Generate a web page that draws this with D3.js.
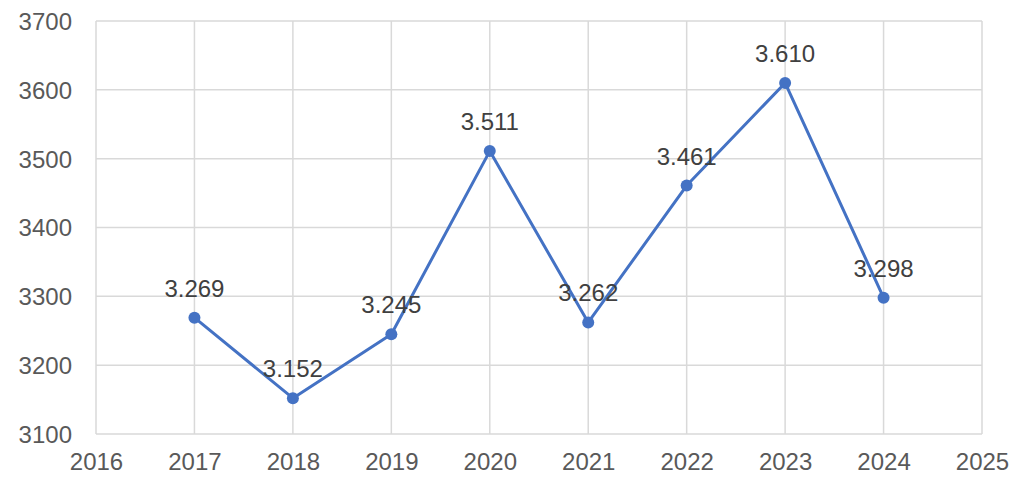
<!DOCTYPE html>
<html>
<head>
<meta charset="utf-8">
<script src="https://cdn.jsdelivr.net/npm/d3@7"></script>
<style>
  body { margin: 0; background: #fff; }
  text { font-family: "Liberation Sans", Arial, sans-serif; }
</style>
</head>
<body>
<div id="chart"></div>
<script>
var years = [2017, 2018, 2019, 2020, 2021, 2022, 2023, 2024];
var values = [3269, 3152, 3245, 3511, 3262, 3461, 3610, 3298];
var xTicks = [2016, 2017, 2018, 2019, 2020, 2021, 2022, 2023, 2024, 2025];
var yTicks = [3100, 3200, 3300, 3400, 3500, 3600, 3700];

var margin = {top: 21, right: 42, bottom: 54, left: 96},
    width = 1024 - margin.left - margin.right,
    height = 488 - margin.top - margin.bottom;

var x = d3.scaleLinear().domain([2016, 2025]).range([0, width]);
var y = d3.scaleLinear().domain([3100, 3700]).range([height, 0]);

var svg = d3.select("#chart").append("svg")
    .attr("width", 1024)
    .attr("height", 488)
    .append("g")
    .attr("transform", "translate(" + margin.left + "," + margin.top + ")");

// gridlines
svg.append("g")
    .selectAll("line")
    .data(yTicks)
    .enter().append("line")
    .attr("x1", 0).attr("x2", width)
    .attr("y1", function(d) { return y(d); })
    .attr("y2", function(d) { return y(d); })
    .attr("stroke", "#d9d9d9")
    .attr("stroke-width", 1.5);

svg.append("g")
    .selectAll("line")
    .data(xTicks)
    .enter().append("line")
    .attr("y1", 0).attr("y2", height)
    .attr("x1", function(d) { return x(d); })
    .attr("x2", function(d) { return x(d); })
    .attr("stroke", "#d9d9d9")
    .attr("stroke-width", 1.5);

// axes (labels only)
var xAxis = svg.append("g")
    .attr("transform", "translate(0," + height + ")")
    .call(d3.axisBottom(x).tickValues(xTicks).tickFormat(d3.format("d")).tickSize(0).tickPadding(19));

var yAxis = svg.append("g")
    .call(d3.axisLeft(y).tickValues(yTicks).tickFormat(d3.format("d")).tickSize(0).tickPadding(24));

[xAxis, yAxis].forEach(function(a) {
    a.select(".domain").remove();
    a.selectAll("text")
        .attr("fill", "#595959")
        .style("font-size", "24px")
        .style("font-family", "'Liberation Sans', Arial, sans-serif");
});
yAxis.selectAll("text").attr("dy", "0.35em");

var data = years.map(function(yr, i) { return {year: yr, value: values[i]}; });

var line = d3.line()
    .x(function(d) { return x(d.year); })
    .y(function(d) { return y(d.value); });

svg.append("path")
    .datum(data)
    .attr("fill", "none")
    .attr("stroke", "#4472c4")
    .attr("stroke-width", 3)
    .attr("stroke-linejoin", "round")
    .attr("d", line);

svg.selectAll(".dot")
    .data(data)
    .enter().append("circle")
    .attr("class", "dot")
    .attr("cx", function(d) { return x(d.year); })
    .attr("cy", function(d) { return y(d.value); })
    .attr("r", 6)
    .attr("fill", "#4472c4");

var fmt = function(v) { return d3.format(",")(v).replace(",", "."); };

svg.selectAll(".lbl")
    .data(data)
    .enter().append("text")
    .attr("class", "lbl")
    .attr("x", function(d) { return x(d.year); })
    .attr("y", function(d) { return y(d.value) - 21; })
    .attr("text-anchor", "middle")
    .attr("fill", "#404040")
    .style("font-size", "24px")
    .text(function(d) { return fmt(d.value); });
</script>
</body>
</html>
